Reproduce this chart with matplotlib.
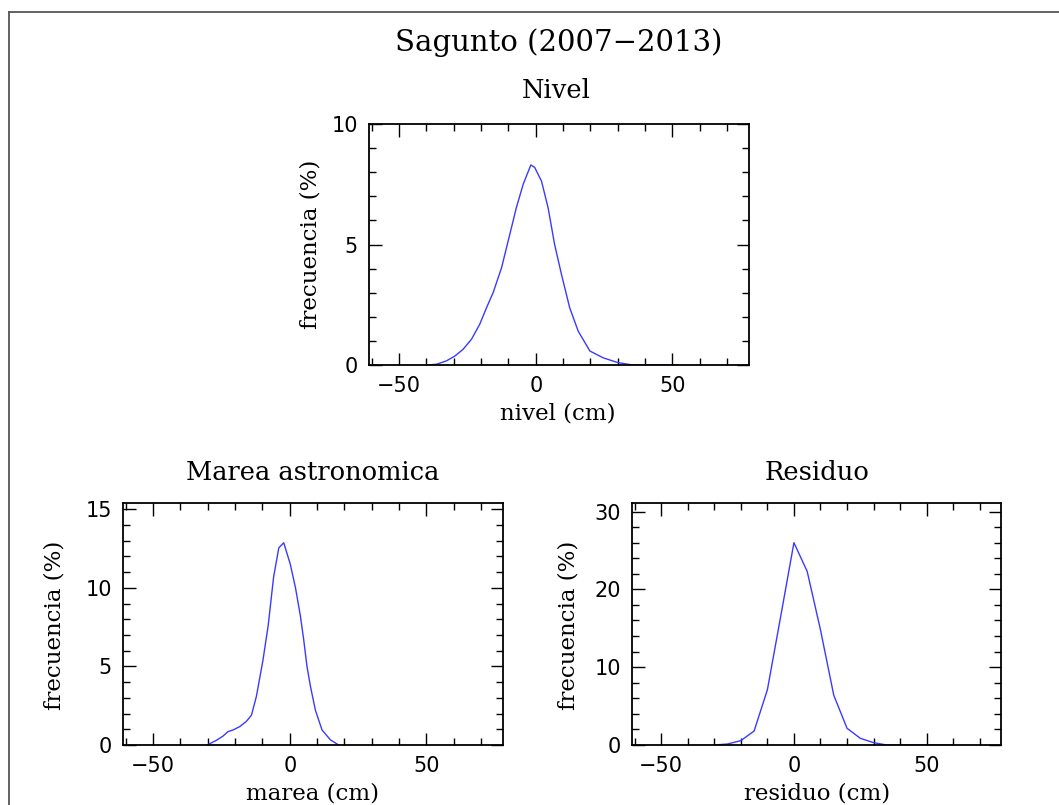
import matplotlib
matplotlib.use("Agg")
import matplotlib.pyplot as plt
from matplotlib.lines import Line2D
from matplotlib.ticker import MultipleLocator

# Nivel (sea level) histogram
nivel_x = [-40, -36.3, -32.7, -29.6, -26.6, -23.5, -20.5, -18, -15.6, -12.5, -9.5,
           -7.1, -4.6, -1.8, -0.4, 2.1, 4.5, 6.9, 9.4, 12.4, 15.5, 19.8, 24.6,
           30, 35.5, 52]
nivel_y = [0, 0.03, 0.17, 0.37, 0.65, 1.07, 1.69, 2.38, 3.0, 4.04, 5.42,
           6.53, 7.5, 8.3, 8.2, 7.63, 6.53, 5.0, 3.76, 2.38, 1.41, 0.58, 0.30,
           0.1, 0, 0]

# Marea astronomica histogram
marea_x = [-30.2, -26.8, -24.4, -22.6, -20.7, -18.3, -15.9, -14, -12.2, -9.8, -7.9,
           -5.9, -4.0, -2.2, 0.2, 2.1, 3.9, 5.1, 6.3, 7.6, 9.4, 11.8, 14.9, 17.9]
marea_y = [0, 0.3, 0.57, 0.85, 0.96, 1.17, 1.5, 1.9, 3.1, 5.4, 7.6,
           10.7, 12.55, 12.87, 11.5, 10.0, 8.2, 6.7, 5.0, 3.7, 2.2, 0.96, 0.32, 0]

# Residuo histogram
residuo_x = [-30, -25, -20, -15, -10, -5, 0, 5, 10, 15, 20, 25, 30, 35, 40, 45, 50, 55, 60]
residuo_y = [0, 0.13, 0.56, 1.8, 7.1, 16.5, 26.0, 22.3, 14.8, 6.4, 2.15, 0.86, 0.3,
             0, 0, 0, 0, 0, 0]

W, H = 1059, 805
fig = plt.figure(figsize=(W / 100, H / 100), dpi=100)

serif = "DejaVu Serif"
line_color = "#3a3aff"


def px_axes(left, top, right, bottom):
    return fig.add_axes([left / W, 1 - bottom / H, (right - left) / W, (bottom - top) / H])


def style(ax, ymax, ymajor, yminor):
    ax.set_xlim(-61, 78)
    ax.set_ylim(0, ymax)
    ax.xaxis.set_major_locator(MultipleLocator(50))
    ax.xaxis.set_minor_locator(MultipleLocator(10))
    ax.yaxis.set_major_locator(MultipleLocator(ymajor))
    ax.yaxis.set_minor_locator(MultipleLocator(yminor))
    ax.tick_params(which="both", direction="in", top=True, right=True, width=1.0,
                   labelsize=15, pad=8)
    ax.tick_params(which="major", length=9)
    ax.tick_params(which="minor", length=5)
    for s in ax.spines.values():
        s.set_linewidth(1.3)


ax1 = px_axes(369, 124, 749, 365)
ax1.plot(nivel_x, nivel_y, color=line_color, lw=1.0)
style(ax1, 10, 5, 1)

ax2 = px_axes(123, 503, 503, 745)
ax2.plot(marea_x, marea_y, color=line_color, lw=1.0)
style(ax2, 15.4, 5, 1)

ax3 = px_axes(632, 503, 1001, 745)
ax3.plot(residuo_x, residuo_y, color=line_color, lw=1.0)
style(ax3, 31.1, 10, 2)


def ftext(x, y, s, size, rot=0):
    fig.text(x / W, 1 - y / H, s, ha="center", va="center", fontsize=size,
             family=serif, rotation=rot)


ftext(559, 43, "Sagunto (2007\u22122013)", 21)
ftext(556, 91, "Nivel", 18.5)
ftext(313, 472, "Marea astronomica", 18.5)
ftext(817, 472, "Residuo", 18.5)

ftext(558, 413, "nivel (cm)", 16.5)
ftext(312, 793, "marea (cm)", 16.5)
ftext(817, 793, "residuo (cm)", 16.5)

ftext(310, 244, "frecuencia (%)", 16.5, 90)
ftext(55, 625, "frecuencia (%)", 16.5, 90)
ftext(568, 625, "frecuencia (%)", 16.5, 90)

# partial frame around the picture
fig.add_artist(Line2D([9 / W, 9 / W], [0, 1 - 12 / H], transform=fig.transFigure,
                      color="#555555", lw=1.3))
fig.add_artist(Line2D([9 / W, 1], [1 - 12 / H, 1 - 12 / H], transform=fig.transFigure,
                      color="#555555", lw=1.3))

fig.savefig("out.png", dpi=100)
